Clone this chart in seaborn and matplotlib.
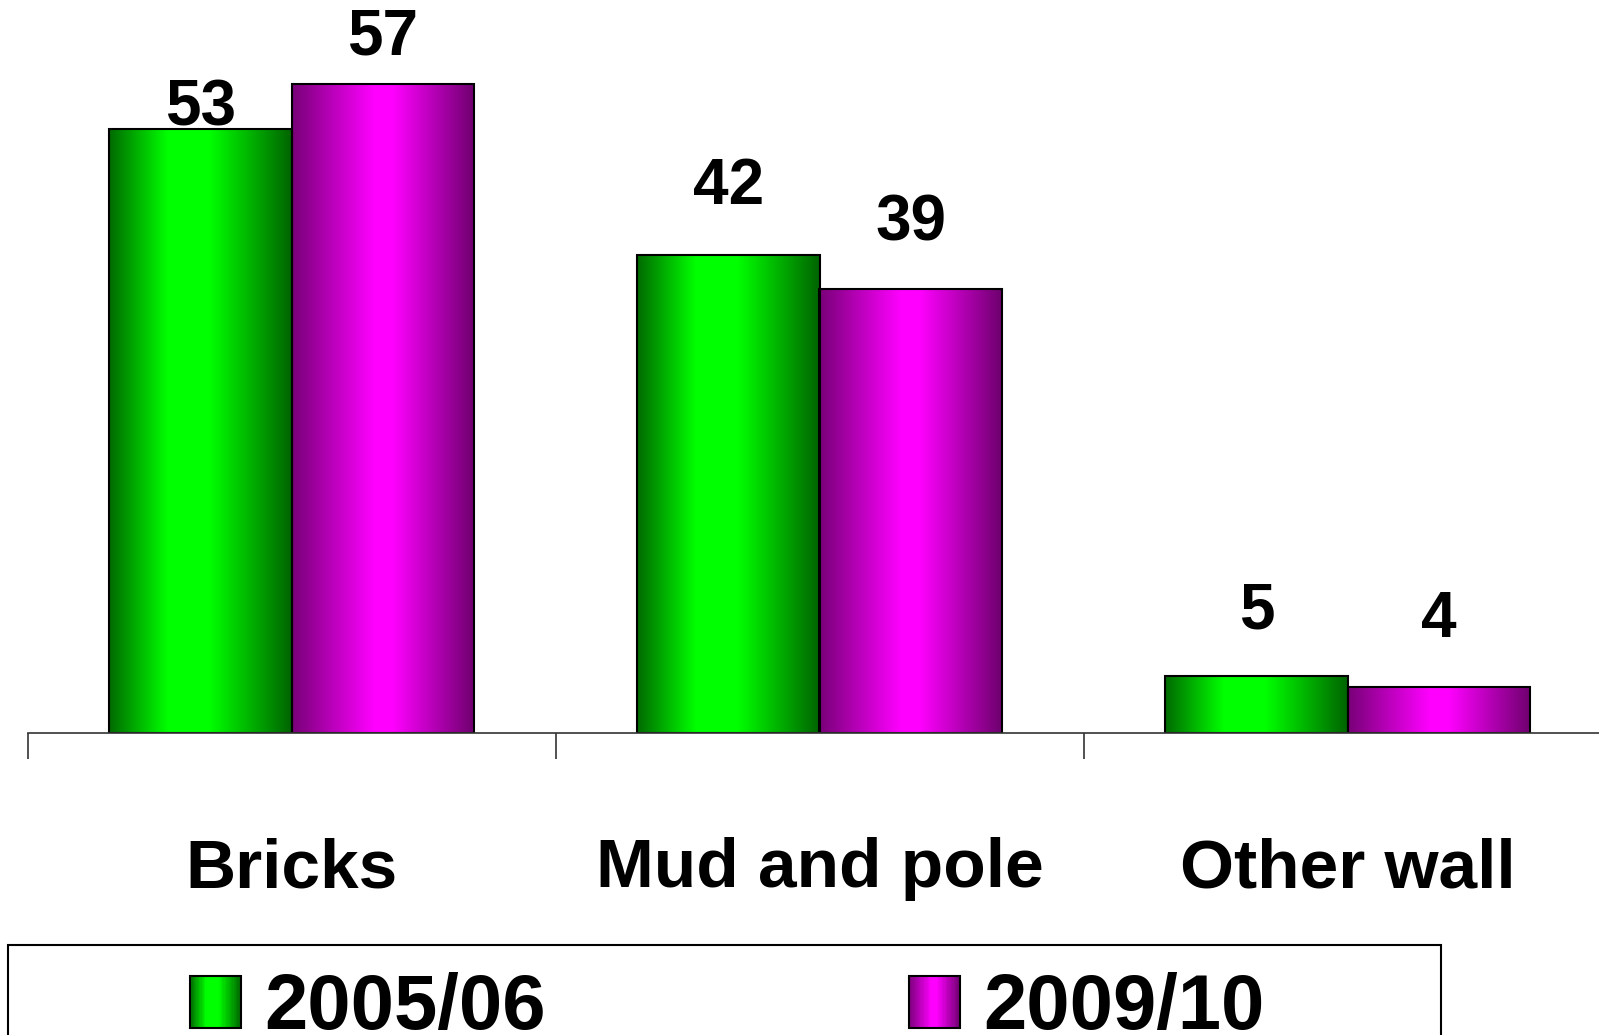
import numpy as np
import pandas as pd
import matplotlib
matplotlib.use("Agg")
import matplotlib.pyplot as plt
import seaborn as sns
from matplotlib.colors import LinearSegmentedColormap, to_rgba
from matplotlib.patches import Rectangle, Patch
from matplotlib.legend_handler import HandlerBase

# ---- data -------------------------------------------------------------
categories = ["Bricks", "Mud and pole", "Other wall"]
years = ["2005/06", "2009/10"]
pct_2005 = [53, 42, 5]
pct_2009 = [57, 39, 4]

df = pd.DataFrame({
    "Wall": categories * 2,
    "Year": [years[0]] * len(categories) + [years[1]] * len(categories),
    "Percent": pct_2005 + pct_2009,
})

# ---- style ------------------------------------------------------------
sns.set_theme(style="white")
plt.rcParams["font.family"] = ["Liberation Sans", "DejaVu Sans"]
plt.rcParams["font.weight"] = "bold"
plt.rcParams["text.color"] = "black"
plt.rcParams["xtick.color"] = "black"

base_colors = {"2005/06": "#00ff00", "2009/10": "#ff00ff"}
gradients = {
    "2005/06": LinearSegmentedColormap.from_list(
        "green_shade",
        [(0.0, "#006a00"), (0.32, "#00ff00"), (0.55, "#00ff00"), (1.0, "#006400")]),
    "2009/10": LinearSegmentedColormap.from_list(
        "magenta_shade",
        [(0.0, "#780078"), (0.45, "#ff00ff"), (0.55, "#ff00ff"), (1.0, "#6e006e")]),
}

W, H = 1599, 1035
fig = plt.figure(figsize=(W / 100, H / 100), dpi=100)
ax = fig.add_axes([27.5 / W, 302 / H, 1 - 27.5 / W, 733 / H])

sns.barplot(data=df, x="Wall", y="Percent", hue="Year",
            order=categories, hue_order=years,
            palette=[base_colors[y] for y in years], saturation=1,
            width=0.69, gap=0, edgecolor="black", linewidth=1.5,
            legend=False, ax=ax)

# shaded fill for each bar, the bar patch keeps only its outline
grad = np.linspace(0, 1, 256).reshape(1, -1)
label_offsets = {  # pixels between bar top and label baseline
    ("Bricks", "2005/06"): 4, ("Bricks", "2009/10"): 29,
    ("Mud and pole", "2005/06"): 51, ("Mud and pole", "2009/10"): 48,
    ("Other wall", "2005/06"): 48, ("Other wall", "2009/10"): 50,
}
bars = [p for p in ax.patches if isinstance(p, Rectangle) and p.get_height() > 0]
for p in bars:
    fc = p.get_facecolor()
    year = min(years, key=lambda y: np.sum((np.array(to_rgba(base_colors[y])) - np.array(fc)) ** 2))
    x0, y0, w, h = p.get_x(), p.get_y(), p.get_width(), p.get_height()
    ax.imshow(grad, extent=(x0, x0 + w, y0, y0 + h), aspect="auto",
              cmap=gradients[year], interpolation="bilinear", zorder=p.get_zorder() - 0.1)
    p.set_facecolor("none")
    cat = categories[int(round(x0 + w / 2))]
    ax.annotate(f"{h:.0f}", xy=(x0 + w / 2, y0 + h),
                xytext=(0, label_offsets[(cat, year)]), textcoords="offset pixels",
                ha="center", va="baseline", fontsize=46, fontweight="bold", color="black")

# category boundaries as ticks, names centred between them
ax.set_xticks([-0.5, 0.5, 1.5, 2.5])
ax.set_xticklabels([])
ax.set_xticks(range(len(categories)), minor=True)
ax.set_xticklabels(categories, minor=True, fontsize=50, fontweight="bold", color="black")
ax.tick_params(axis="x", which="major", direction="out", length=19, width=1.2,
               color="#333333", bottom=True)
ax.tick_params(axis="x", which="minor", length=0, pad=75, bottom=True)
ax.set_yticks([])
ax.set_xlabel("")
ax.set_ylabel("")
for side in ("left", "top", "right"):
    ax.spines[side].set_visible(False)
ax.spines["bottom"].set_color("#333333")
ax.spines["bottom"].set_linewidth(1.2)

ax.set_xlim(-0.5, -0.5 + (W - 27.5) / 528)
ax.set_ylim(0, 733 / 11.39)


# ---- legend -----------------------------------------------------------
class GradientHandler(HandlerBase):
    def __init__(self, cmap):
        super().__init__()
        self.cmap = cmap

    def create_artists(self, legend, orig_handle, xdescent, ydescent,
                       width, height, fontsize, trans):
        n = 40
        arts = []
        for i in range(n):
            arts.append(Rectangle((-xdescent + i * width / n, -ydescent),
                                  width / n * 1.08, height,
                                  facecolor=self.cmap((i + 0.5) / n),
                                  edgecolor="none", transform=trans))
        arts.append(Rectangle((-xdescent, -ydescent), width, height,
                              facecolor="none", edgecolor="black", lw=1.5,
                              transform=trans))
        return arts


handles = [Patch(facecolor=base_colors[y]) for y in years]
fig.legend(handles=handles, labels=years,
           handler_map={h: GradientHandler(gradients[y]) for h, y in zip(handles, years)},
           loc="center left", bbox_to_anchor=(190 / W, 1 - 1009 / H), ncol=2,
           frameon=False, prop={"size": 56, "weight": "bold"}, labelcolor="black",
           handlelength=0.66, handleheight=0.64, handletextpad=0.3,
           columnspacing=4.66, borderpad=0, borderaxespad=0)
fig.add_artist(Rectangle((8 / W, -0.1), (1441 - 8) / W, 0.1 + (1 - 945 / H),
                         transform=fig.transFigure, fill=False,
                         edgecolor="black", lw=1.5, clip_on=False))

fig.savefig("out.png", dpi=100)
